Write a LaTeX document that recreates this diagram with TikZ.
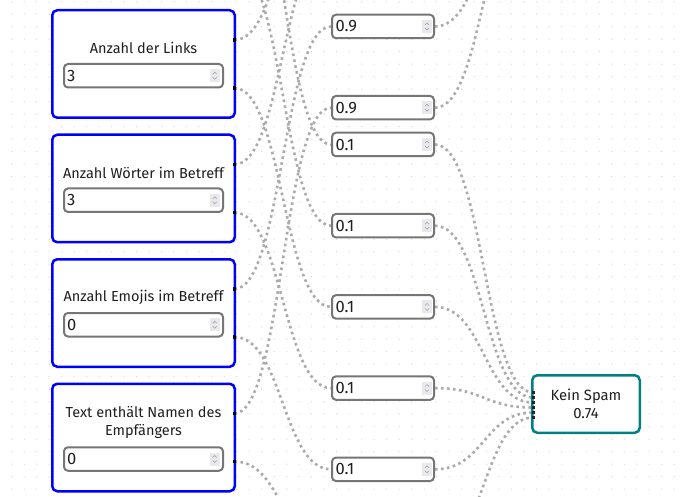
\documentclass[tikz,border=0pt]{standalone}
\usepackage{fontspec}
\setmainfont{Fira Sans}
\usetikzlibrary{calc}
\definecolor{featblue}{HTML}{0000FF}
\definecolor{tealout}{HTML}{008080}
\definecolor{boxgray}{HTML}{767676}
\definecolor{wiregray}{HTML}{ABABAB}
\definecolor{griddot}{HTML}{D8D8D8}
\definecolor{spinbg}{HTML}{E9E9ED}
\definecolor{txt}{HTML}{1F1F1F}
\pgfdeclarelayer{bg}
\pgfsetlayers{bg,main}
\begin{document}
\begin{tikzpicture}[x=1pt,y=-1pt,
  feat/.style={rectangle, draw=featblue, line width=2.5pt, rounded corners=5pt, fill=white, minimum width=182.5pt, minimum height=107.5pt, inner sep=0pt},
  field/.style={rectangle, draw=boxgray, line width=2pt, rounded corners=4pt, fill=white, minimum width=159pt, minimum height=23.5pt, inner sep=0pt},
  wbox/.style={rectangle, draw=boxgray, line width=2pt, rounded corners=4pt, fill=white, minimum width=102pt, minimum height=23.5pt, inner sep=0pt},
  outbox/.style={rectangle, draw=tealout, line width=2.5pt, rounded corners=5pt, fill=white, minimum width=107.5pt, minimum height=57.5pt, inner sep=0pt, align=center, font=\fontsize{14.8}{18}\selectfont, text=txt},
  lbl/.style={font=\fontsize{14.5}{18}\selectfont, text=txt, align=center, inner sep=0pt},
  val/.style={font=\fontsize{16.5}{18}\selectfont, text=txt, anchor=west, inner sep=0pt},
  port/.style={rectangle, fill=black, minimum width=3.5pt, minimum height=3.5pt, inner sep=0pt},
  kport/.style={rectangle, fill=black!85, minimum width=3pt, minimum height=3pt, inner sep=0pt},
  wire/.style={draw=wiregray, line width=2.6pt, dash pattern=on 2.6pt off 3.4pt},
  spinner/.pic={
    \fill[spinbg] (-5,-6.5) rectangle (5,6.5);
    \draw[boxgray!70, line width=0.5pt] (-2,-1.5) -- (0,-3.5) -- (2,-1.5);
    \draw[boxgray!70, line width=0.5pt] (-2,1.5) -- (0,3.5) -- (2,1.5);
  }
]
\useasboundingbox (0,0) rectangle (680,497);
\clip (0,0) rectangle (680,497);

% ---------- feature nodes ----------
\node[feat] (f1) at (143.5,64) {};
\node[feat] (f2) at (143.5,188.5) {};
\node[feat] (f3) at (143.5,313) {};
\node[feat] (f4) at (143.5,437.5) {};

\node[lbl] (l1) at (143.5,48) {Anzahl der Links};
\node[lbl] (l2) at (143.5,172.5) {Anzahl Wörter im Betreff};
\node[lbl] (l3) at (143.5,297) {Anzahl Emojis im Betreff};
\node[lbl] (l4) at (143.5,422) {Text enthält Namen des\\Empfängers};

\node[field] (i1) at (143.5,75.75) {};
\node[field] (i2) at (143.5,200.25) {};
\node[field] (i3) at (143.5,324.75) {};
\node[field] (i4) at (143.5,459) {};
\node[val] (v1) at ($(i1.west)+(4,0)$) {3};
\node[val] (v2) at ($(i2.west)+(4,0)$) {3};
\node[val] (v3) at ($(i3.west)+(4,0)$) {0};
\node[val] (v4) at ($(i4.west)+(4,0)$) {0};
\pic at (214.7,75.75) {spinner};
\pic at (214.7,200.25) {spinner};
\pic at (214.7,324.75) {spinner};
\pic at (214.7,459) {spinner};

\node[port] (p1a) at (234.5,40) {};
\node[port] (p1b) at (234.5,88) {};
\node[port] (p2a) at (234.5,164.5) {};
\node[port] (p2b) at (234.5,212.5) {};
\node[port] (p3a) at (234.5,289) {};
\node[port] (p3b) at (234.5,337) {};
\node[port] (p4a) at (234.5,413.5) {};
\node[port] (p4b) at (234.5,461.5) {};

% off-canvas ends
\coordinate (f0b) at (234.5,-161);
\coordinate (f1b) at (234.5,-36.5);
\coordinate (ws2w) at (331,-135.9);
\coordinate (ws3w) at (331,-54.7);
\coordinate (wk5w) at (331,550.5);
\coordinate (wk5e) at (435,550.5);
\coordinate (sp4) at (533,-111.5);
\coordinate (sp5) at (533,-106.5);

% ---------- weight boxes ----------
\node[wbox] (ws4) at (383,26.5) {};
\node[wbox] (ws5) at (383,107.7) {};
\node[wbox] (wk0) at (383,144.5) {};
\node[wbox] (wk1) at (383,225.7) {};
\node[wbox] (wk2) at (383,306.9) {};
\node[wbox] (wk3) at (383,388.1) {};
\node[wbox] (wk4) at (383,469.3) {};
\foreach \b/\t in {ws4/0.9,ws5/0.9,wk0/0.1,wk1/0.1,wk2/0.1,wk3/0.1,wk4/0.1}{
  \node[val] at ($(\b.west)+(4.5,0)$) {\t};
  \pic at ($(\b.east)+(-8,0)$) {spinner};
}

% ---------- output node ----------
\node[outbox] (ks) at (586,404) {Kein Spam\\0.74};
\foreach \k in {0,...,5}{
  \node[kport] (kp\k) at (533,392.5+5*\k) {};
}

% ---------- connectors ----------
\begin{pgfonlayer}{bg}
\begin{scope}
\clip (0,0) rectangle (680,497);
\fill[white] (0,0) rectangle (680,497);
\foreach \i in {0,...,55}{
  \foreach \j in {0,...,40}{
    \fill[griddot] (-0.8+12.5*\i,1.7+12.5*\j) circle (0.7);
  }
}
\draw[wire] (p1a.center) .. controls +(48,0) and +(-48,0) .. (ws2w);
\draw[wire] (p2a.center) .. controls +(48,0) and +(-48,0) .. (ws3w);
\draw[wire] (p3a.center) .. controls +(48,0) and +(-48,0) .. (ws4.west);
\draw[wire] (p4a.center) .. controls +(48,0) and +(-48,0) .. (ws5.west);
\draw[wire] (f0b) .. controls +(48,0) and +(-48,0) .. (wk0.west);
\draw[wire] (f1b) .. controls +(48,0) and +(-48,0) .. (wk1.west);
\draw[wire] (p1b.center) .. controls +(48,0) and +(-48,0) .. (wk2.west);
\draw[wire] (p2b.center) .. controls +(48,0) and +(-48,0) .. (wk3.west);
\draw[wire] (p3b.center) .. controls +(48,0) and +(-48,0) .. (wk4.west);
\draw[wire] (p4b.center) .. controls +(48,0) and +(-48,0) .. (wk5w);
\draw[wire] (ws4.east) .. controls +(49,0) and +(-49,0) .. (sp4);
\draw[wire] (ws5.east) .. controls +(49,0) and +(-49,0) .. (sp5);
\draw[wire] (wk0.east) .. controls +(49,0) and +(-49,0) .. (kp0.center);
\draw[wire] (wk1.east) .. controls +(49,0) and +(-49,0) .. (kp1.center);
\draw[wire] (wk2.east) .. controls +(49,0) and +(-49,0) .. (kp2.center);
\draw[wire] (wk3.east) .. controls +(49,0) and +(-49,0) .. (kp3.center);
\draw[wire] (wk4.east) .. controls +(49,0) and +(-49,0) .. (kp4.center);
\draw[wire] (wk5e) .. controls +(49,0) and +(-49,0) .. (kp5.center);
\end{scope}
\end{pgfonlayer}
\end{tikzpicture}
\end{document}
